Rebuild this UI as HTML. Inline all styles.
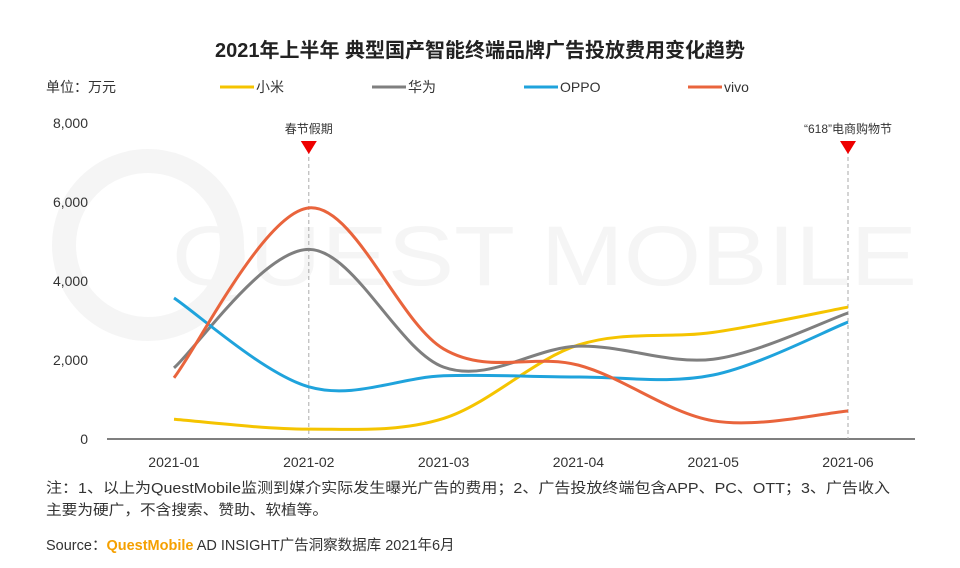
<!DOCTYPE html>
<html><head><meta charset="utf-8"><style>
body{margin:0;background:#fff;font-family:"Liberation Sans","Noto Sans CJK SC",sans-serif;}
#wrap{position:relative;width:960px;height:568px;overflow:hidden;background:#fff}
svg{position:absolute;left:0;top:0}
</style></head><body>
<div id="wrap">
<svg id="chart" width="960" height="568" font-family="Liberation Sans, Noto Sans CJK SC, sans-serif">
<text x="480" y="57" text-anchor="middle" font-size="20" font-weight="bold" fill="#222">2021年上半年 典型国产智能终端品牌广告投放费用变化趋势</text>
<text x="46" y="92" font-size="14" fill="#333">单位：万元</text>
<text x="172" y="285" font-size="84" fill="#f5f5f5" textLength="745" lengthAdjust="spacingAndGlyphs">QUEST MOBILE</text>
<circle cx="148" cy="245" r="84" fill="none" stroke="#f5f5f5" stroke-width="24"/>
<g id="grid"></g><g id="series"></g><g id="legend"></g>
<text x="46" y="493" font-size="14.5" fill="#333" textLength="844" lengthAdjust="spacingAndGlyphs">注：1、以上为QuestMobile监测到媒介实际发生曝光广告的费用；2、广告投放终端包含APP、PC、OTT；3、广告收入</text>
<text x="46" y="515" font-size="14.5" fill="#333" textLength="282" lengthAdjust="spacingAndGlyphs">主要为硬广，不含搜索、赞助、软植等。</text>
<text x="46" y="550" font-size="14.5" fill="#333">Source：<tspan fill="#f5a000" font-weight="bold">QuestMobile</tspan> AD INSIGHT广告洞察数据库 2021年6月</text>
</svg></div>
<script>
const categories=["2021-01","2021-02","2021-03","2021-04","2021-05","2021-06"];
const yTicks=[0,2000,4000,6000,8000];
const xiaomi=[500,250,520,2380,2700,3340];
const huawei=[1800,4800,1820,2350,2020,3190];
const oppo=[3570,1320,1600,1570,1620,2960];
const vivo=[1550,5850,2280,1870,460,710];
const seriesNames=["小米","华为","OPPO","vivo"];
const events=[{i:1,label:"春节假期"},{i:5,label:"“618”电商购物节"}];
const NS="http://www.w3.org/2000/svg";
const colors=["#f5c400","#7f7f7f","#1fa3dc","#e9643c"];
const x=i=>174+i*134.8, y=v=>439-v/8000*316;
function mk(t,a,p){const e=document.createElementNS(NS,t);for(const k in a)e.setAttribute(k,a[k]);p.appendChild(e);return e;}
const g=document.getElementById('grid');
let ax=mk('line',{x1:107,x2:915,y1:439,y2:439,stroke:'#333','stroke-width':1.2},g);


yTicks.forEach(v=>{const t=mk('text',{x:88,y:y(v)+5,'text-anchor':'end','font-size':14,fill:'#333'},g);t.textContent=v.toLocaleString('en-US');

});
categories.forEach((c,i)=>{const t=mk('text',{x:x(i),y:467,'text-anchor':'middle','font-size':14,fill:'#333'},g);t.textContent=c;

});
events.forEach(ev=>{const X=x(ev.i);
const l=mk('line',{x1:X,x2:X,y1:150,y2:439,stroke:'#aaa','stroke-dasharray':'4 3'},g);


const p=mk('path',{d:`M${X-8} 141L${X+8} 141L${X} 154Z`,fill:'#e00'},g);


const t=mk('text',{x:X,y:133,'text-anchor':'middle','font-size':12,fill:'#333'},g);t.textContent=ev.label;

});
function path(vals){const p=vals.map((v,i)=>[x(i),y(v)]);let d=`M${p[0][0]},${p[0][1]}`;
for(let i=0;i<p.length-1;i++){const p0=p[i-1]||p[i],p1=p[i],p2=p[i+1],p3=p[i+2]||p2,k=0.5/3;
d+=`C${p1[0]+(p2[0]-p0[0])*k},${p1[1]+(p2[1]-p0[1])*k} ${p2[0]-(p3[0]-p1[0])*k},${p2[1]-(p3[1]-p1[1])*k} ${p2[0]},${p2[1]}`;}return d;}
const s=document.getElementById('series');
[xiaomi,huawei,oppo,vivo].forEach((vals,k)=>{const e=mk('path',{d:path(vals),fill:'none',stroke:colors[k],'stroke-width':3},s);

});
const L=document.getElementById('legend');const lx=[220,372,524,688];
seriesNames.forEach((n,k)=>{const e=mk('line',{x1:lx[k],x2:lx[k]+34,y1:87,y2:87,stroke:colors[k],'stroke-width':3},L);


const t=mk('text',{x:lx[k]+36,y:92,'font-size':14,fill:'#333'},L);t.textContent=n;

});
</script></body></html>
